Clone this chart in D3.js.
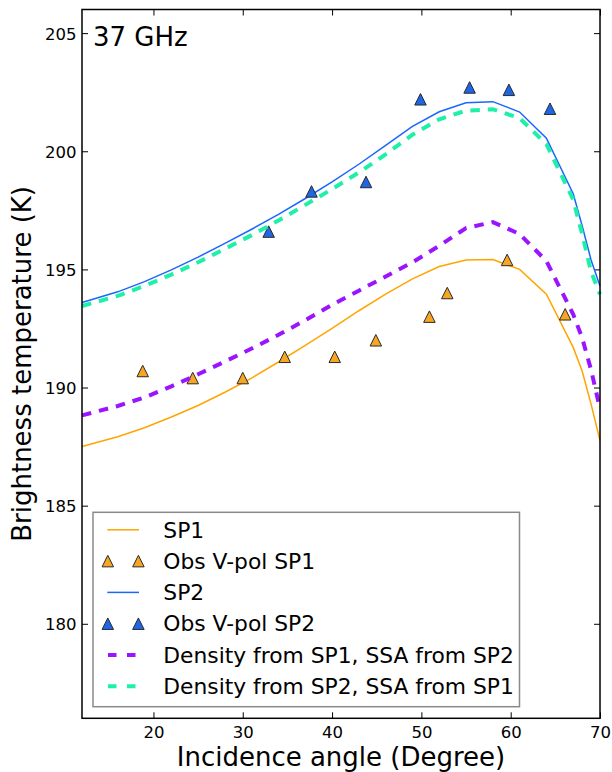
<!DOCTYPE html>
<html>
<head>
<meta charset="utf-8">
<script src="https://cdn.jsdelivr.net/npm/d3@7"></script>
<style>
  html, body { margin: 0; padding: 0; background: #fff; }
  svg { display: block; }
  text { font-family: "DejaVu Sans", sans-serif; fill: #000; }
</style>
</head>
<body>
<svg id="chart" width="612" height="772"></svg>
<script>
// Incidence angles of the modelled curves (degrees)
const modelAngles = [12, 16, 19, 22, 25, 28, 31, 34, 37, 40, 43, 46, 49, 52, 55, 58, 61, 64, 67, 68, 69, 70];

// Modelled V-pol brightness temperature (K)
const sp1Model = [187.5, 187.92, 188.3, 188.75, 189.24, 189.8, 190.4, 191.08, 191.78, 192.5, 193.25, 193.95, 194.6, 195.12, 195.4, 195.42, 195.0, 193.95, 191.7, 190.7, 189.3, 187.75];
const sp2Model = [193.6, 194.05, 194.48, 194.98, 195.52, 196.1, 196.7, 197.33, 198.0, 198.7, 199.45, 200.25, 201.05, 201.67, 202.05, 202.1, 201.66, 200.55, 198.2, 196.85, 195.4, 194.3];
const densSP1ssaSP2 = [188.82, 189.22, 189.58, 190.05, 190.56, 191.1, 191.65, 192.23, 192.85, 193.5, 194.1, 194.7, 195.3, 196.0, 196.75, 197.0, 196.5, 195.35, 193.1, 192.1, 190.75, 189.1];
const densSP2ssaSP1 = [193.45, 193.88, 194.3, 194.78, 195.3, 195.87, 196.45, 197.07, 197.73, 198.4, 199.1, 199.87, 200.7, 201.35, 201.72, 201.78, 201.4, 200.3, 197.95, 196.5, 194.9, 193.95];

// Observed V-pol brightness temperature
const obsAnglesSP1 = [18.8, 24.4, 30.0, 34.7, 40.3, 44.9, 50.9, 52.9, 59.6, 66.1];
const obsSP1 = [190.7, 190.4, 190.4, 191.3, 191.3, 192.0, 193.0, 194.0, 195.4, 193.1];
const obsAnglesSP2 = [32.9, 37.7, 43.8, 49.9, 55.4, 59.8, 64.4];
const obsSP2 = [196.6, 198.3, 198.7, 202.2, 202.7, 202.6, 201.8];

// Axis ticks
const xTicks = [20, 30, 40, 50, 60, 70];
const yTicks = [180, 185, 190, 195, 200, 205];

const legendLabels = ["SP1", "Obs V-pol SP1", "SP2", "Obs V-pol SP2",
  "Density from SP1, SSA from SP2", "Density from SP2, SSA from SP1"];

const colors = {
  sp1: "#ffa500", sp1Mark: "#f7a623",
  sp2: "#1a66ff", sp2Mark: "#1f66e6",
  mix1: "#9a14ff", mix2: "#1ef0a8"
};

const svg = d3.select("#chart");
const mLeft = 82, mRight = 600, mTop = 9.5, mBottom = 718.3;

const x = d3.scaleLinear().domain([12, 70]).range([mLeft, mRight]);
const y = d3.scaleLinear().domain([176, 206]).range([mBottom, mTop]);

const tickFont = 16.5;

// Axes with inward ticks on all four sides
const gL = svg.append("g").attr("transform", `translate(${mLeft},0)`)
  .call(d3.axisLeft(y).tickValues(yTicks).tickSizeInner(-6).tickSizeOuter(0).tickPadding(5.5));
const gR = svg.append("g").attr("transform", `translate(${mRight},0)`)
  .call(d3.axisRight(y).tickValues(yTicks).tickSizeInner(-6).tickSizeOuter(0).tickFormat(""));
const gB = svg.append("g").attr("transform", `translate(0,${mBottom})`)
  .call(d3.axisBottom(x).tickValues(xTicks).tickSizeInner(-6).tickSizeOuter(0).tickPadding(8.3));
const gT = svg.append("g").attr("transform", `translate(0,${mTop})`)
  .call(d3.axisTop(x).tickValues(xTicks).tickSizeInner(-6).tickSizeOuter(0).tickFormat(""));

[gL, gR, gB, gT].forEach(g => {
  g.select(".domain").remove();
  g.selectAll(".tick line").attr("stroke", "#000").attr("stroke-width", 1);
  g.selectAll(".tick text").attr("font-family", "DejaVu Sans").attr("font-size", tickFont).attr("fill", "#000");
});
gL.selectAll(".tick text").attr("dy", "0.36em");

// Data layers
const plot = svg.append("g");
const line = (vals) => d3.line().x((d, i) => x(modelAngles[i])).y(d => y(d))(vals);
const tri = (s) => `M0,${-s}L${s},${s}L${-s},${s}Z`;

function drawMarkers(angles, vals, fill) {
  plot.append("g").selectAll("path").data(vals).join("path")
    .attr("transform", (d, i) => `translate(${x(angles[i])},${y(d)})`)
    .attr("d", tri(5.75))
    .attr("fill", fill).attr("stroke", "#2a2a2a").attr("stroke-width", 1);
}

plot.append("path").attr("d", line(sp1Model)).attr("fill", "none")
  .attr("stroke", colors.sp1).attr("stroke-width", 1.5);
drawMarkers(obsAnglesSP1, obsSP1, colors.sp1Mark);
plot.append("path").attr("d", line(sp2Model)).attr("fill", "none")
  .attr("stroke", colors.sp2).attr("stroke-width", 1.5);
drawMarkers(obsAnglesSP2, obsSP2, colors.sp2Mark);
plot.append("path").attr("d", line(densSP1ssaSP2)).attr("fill", "none")
  .attr("stroke", colors.mix1).attr("stroke-width", 4).attr("stroke-dasharray", "9.5,8");
plot.append("path").attr("d", line(densSP2ssaSP1)).attr("fill", "none")
  .attr("stroke", colors.mix2).attr("stroke-width", 4).attr("stroke-dasharray", "9.5,8");

// Frame
svg.append("rect").attr("x", mLeft).attr("y", mTop)
  .attr("width", mRight - mLeft).attr("height", mBottom - mTop)
  .attr("fill", "none").attr("stroke", "#000").attr("stroke-width", 1.5);

// Panel label
svg.append("text").attr("x", 93).attr("y", 46).attr("font-size", 26).text("37 GHz");

// Axis titles
svg.append("text").attr("x", (mLeft + mRight) / 2).attr("y", 766)
  .attr("text-anchor", "middle").attr("font-size", 26).text("Incidence angle (Degree)");
svg.append("text").attr("transform", `translate(31,${(mTop + mBottom) / 2}) rotate(-90)`)
  .attr("text-anchor", "middle").attr("font-size", 26).text("Brightness temperature (K)");

// Legend
const lg = svg.append("g");
lg.append("rect").attr("x", 93).attr("y", 512.3).attr("width", 426.5).attr("height", 194.4)
  .attr("fill", "#fff").attr("stroke", "#8a8a8a").attr("stroke-width", 1.5);
const rowY = (i) => 529.8 + i * 31.3;
const kinds = [
  { type: "line", color: colors.sp1 },
  { type: "marker", color: colors.sp1Mark },
  { type: "line", color: colors.sp2 },
  { type: "marker", color: colors.sp2Mark },
  { type: "dash", color: colors.mix1 },
  { type: "dash", color: colors.mix2 }
];
kinds.forEach((k, i) => {
  const cy = rowY(i);
  if (k.type === "line") {
    lg.append("line").attr("x1", 107.3).attr("x2", 139).attr("y1", cy).attr("y2", cy)
      .attr("stroke", k.color).attr("stroke-width", 1.5);
  } else if (k.type === "dash") {
    lg.append("line").attr("x1", 108).attr("x2", 136).attr("y1", cy).attr("y2", cy)
      .attr("stroke", k.color).attr("stroke-width", 4).attr("stroke-dasharray", "8.5,10.5");
  } else {
    [107.8, 138.4].forEach(px => {
      lg.append("path").attr("transform", `translate(${px},${cy})`).attr("d", tri(5.75))
        .attr("fill", k.color).attr("stroke", "#2a2a2a").attr("stroke-width", 1);
    });
  }
  lg.append("text").attr("x", 163.3).attr("y", cy + 7.7).attr("font-size", 21.8).text(legendLabels[i]);
});
</script>
</body>
</html>
